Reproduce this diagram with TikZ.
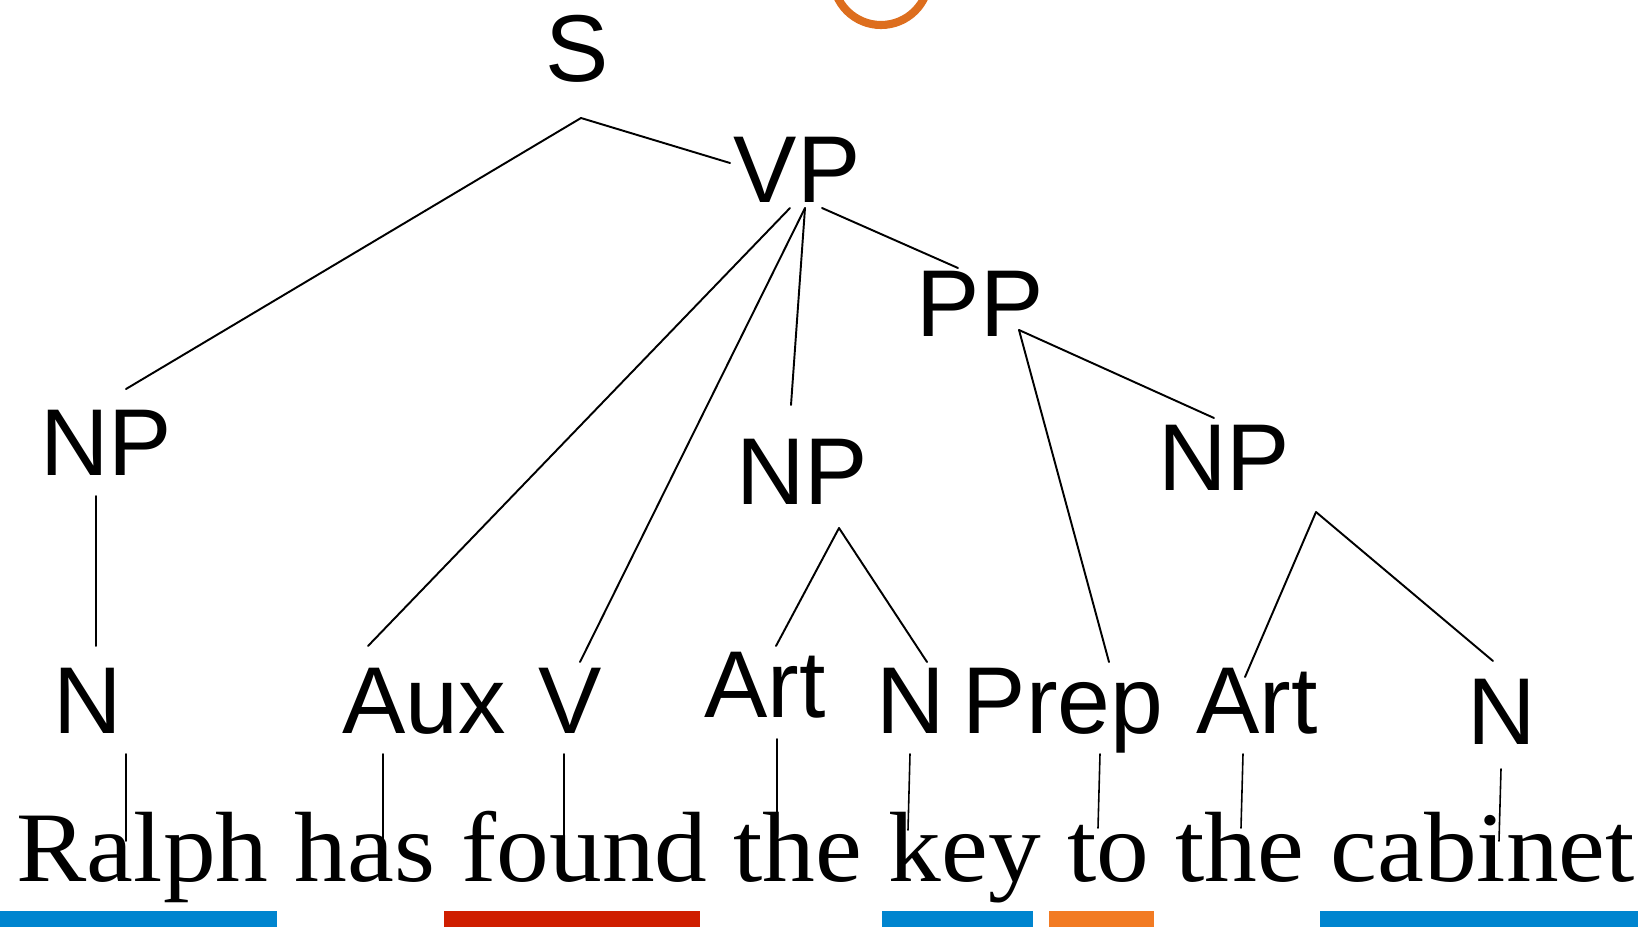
\documentclass[tikz,border=0pt]{standalone}
\usepackage{fontspec}
\setmainfont{Liberation Sans}
\newfontfamily\frasefont[FakeStretch=1.055]{Liberation Serif}
\definecolor{barblu}{RGB}{0,133,207}
\definecolor{barrosso}{RGB}{207,30,0}
\definecolor{barara}{RGB}{242,123,35}
\definecolor{cerchio}{RGB}{221,110,30}
\begin{document}
\begin{tikzpicture}[x=0.01cm,y=-0.01cm,line join=round,line cap=round,
    etich/.style={anchor=base,inner sep=0pt,font=\fontsize{27}{30}\selectfont},
    ramo/.style={line width=0.55pt},
    barra/.style={fill=#1,draw=none}]

  \useasboundingbox (0,0) rectangle (1648,927);

  % ---- cerchio in alto ----------------------------------------------------
  \draw[cerchio,line width=2.3pt] (881,-23) circle[radius=48];

  % ---- etichette dell'albero ----------------------------------------------
  \node[etich] (S)    at (577,81)   {S};
  \node[etich] (VP)   at (797,202)  {VP};
  \node[etich] (PP)   at (980,336)  {PP};
  \node[etich] (NPa)  at (106,475)  {NP};
  \node[etich] (NPb)  at (802,504)  {NP};
  \node[etich] (NPc)  at (1224,490) {NP};
  \node[etich] (Na)   at (88,733)   {N};
  \node[etich] (Aux)  at (424,733)  {Aux};
  \node[etich] (V)    at (570,733)  {V};
  \node[etich] (Arta) at (765,717)  {Art};
  \node[etich] (Nb)   at (911,733)  {N};
  \node[etich] (Prep) at (1063,733) {Prep};
  \node[etich] (Artb) at (1257,733) {Art};
  \node[etich] (Nc)   at (1502,744) {N};

  % ---- la frase -------------------------------------------------------------
  \node[anchor=base west,inner sep=0pt,font=\frasefont\fontsize{28.4}{32}\selectfont]
    (frase) at (16,881) {Ralph has found the key to the cabinet};

  % ---- punti d'attacco dei rami -------------------------------------------
  \coordinate (S-g)    at (581,118);
  \coordinate (NPa-s)  at (126,389);
  \coordinate (VP-s)   at (730,163);
  \coordinate (VP-g1)  at (790,208);
  \coordinate (VP-g2)  at (805,208);
  \coordinate (VP-g3)  at (822,208);
  \coordinate (Aux-s)  at (368,646);
  \coordinate (V-s)    at (580,662);
  \coordinate (NPb-s)  at (791,405);
  \coordinate (PP-s)   at (958,268);
  \coordinate (PP-g)   at (1019,330);
  \coordinate (Prep-s) at (1109,662);
  \coordinate (NPc-s)  at (1214,418);
  \coordinate (NPa-g)  at (96,496);
  \coordinate (Na-s)   at (96,646);
  \coordinate (NPb-g)  at (839,528);
  \coordinate (Arta-s) at (776,646);
  \coordinate (Nb-s)   at (927,662);
  \coordinate (NPc-g)  at (1316,512);
  \coordinate (Artb-s) at (1245,677);
  \coordinate (Nc-s)   at (1493,661);

  % ---- rami ---------------------------------------------------------------
  \foreach \a/\b in {S-g/NPa-s, S-g/VP-s, VP-g1/Aux-s, VP-g2/V-s, VP-g2/NPb-s,
                     VP-g3/PP-s, PP-g/Prep-s, PP-g/NPc-s, NPa-g/Na-s,
                     NPb-g/Arta-s, NPb-g/Nb-s, NPc-g/Artb-s, NPc-g/Nc-s}
    \draw[ramo] (\a) -- (\b);

  % ---- dalle categorie alle parole ----------------------------------------
  \coordinate (Na-g)   at (126,754);   \coordinate (w1) at (126,841);
  \coordinate (Aux-g)  at (383,754);   \coordinate (w2) at (383,841);
  \coordinate (V-g)    at (564,754);   \coordinate (w3) at (564,841);
  \coordinate (Arta-g) at (777,739);   \coordinate (w4) at (777,815);
  \coordinate (Nb-g)   at (910,754);   \coordinate (w5) at (908,830);
  \coordinate (Prep-g) at (1100,754);  \coordinate (w6) at (1098,828);
  \coordinate (Artb-g) at (1243,754);  \coordinate (w7) at (1241,828);
  \coordinate (Nc-g)   at (1501,769);  \coordinate (w8) at (1499,841);

  \foreach \a/\b in {Na-g/w1, Aux-g/w2, V-g/w3, Arta-g/w4,
                     Nb-g/w5, Prep-g/w6, Artb-g/w7, Nc-g/w8}
    \draw[ramo,line width=0.45pt] (\a) -- (\b);

  % ---- barre colorate -----------------------------------------------------
  \fill[barra=barblu]   (0,911)    rectangle (277,927);
  \fill[barra=barrosso] (444,911)  rectangle (700,927);
  \fill[barra=barblu]   (882,911)  rectangle (1033,927);
  \fill[barra=barara]   (1049,911) rectangle (1154,927);
  \fill[barra=barblu]   (1320,911) rectangle (1638,927);

\end{tikzpicture}
\end{document}
